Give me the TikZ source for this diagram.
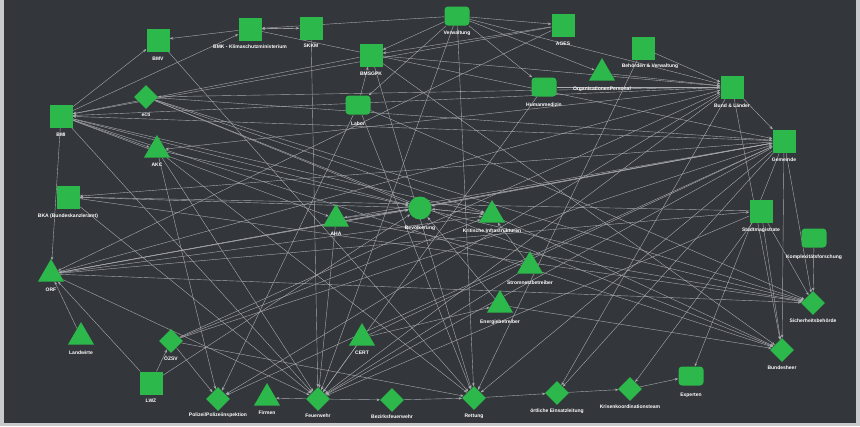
\documentclass[tikz,border=0pt]{standalone}
\usepackage{fontspec}
\setmainfont{Liberation Sans}
\usetikzlibrary{shapes.geometric,arrows.meta}
\pgfdeclarelayer{back}
\pgfdeclarelayer{edges}
\pgfsetlayers{back,edges,main}
\definecolor{bgdark}{HTML}{33363B}
\definecolor{frame}{HTML}{C9CACC}
\definecolor{ngreen}{HTML}{2DB84B}
\definecolor{ecol}{HTML}{A9ABAE}
\tikzset{
  base/.style={fill=ngreen, draw=none, inner sep=0pt},
  sq/.style={base, rectangle, minimum size=23pt},
  rr/.style={base, rectangle, rounded corners=3.5pt, minimum width=25pt, minimum height=19pt},
  tri/.style={base, regular polygon, regular polygon sides=3, minimum size=30pt},
  dia/.style={base, diamond, minimum size=24pt},
  circ/.style={base, circle, minimum size=23pt},
  lab/.style={text=white, font=\fontsize{5}{5.5}\selectfont\bfseries, inner sep=0.5pt},
  edge/.style={draw=ecol, line width=0.4pt, -{Stealth[length=3.4pt,width=2.6pt]}}
}
\begin{document}
\begin{tikzpicture}[x=1pt,y=-1pt]
\begin{pgfonlayer}{back}
\fill[frame] (0,0) rectangle (860,426);
\fill[bgdark] (4,0) rectangle (856,423);
\end{pgfonlayer}
\useasboundingbox (0,0) rectangle (860,426);
% nodes
\node[sq]  (bmv)      at (158,40)  {}; \node[lab] at (158,59) {BMV};
\node[sq]  (bmk)      at (250,29)  {}; \node[lab] at (250,47) {BMK - Klimaschutzministerium};
\node[sq]  (skkm)     at (311,28)  {}; \node[lab] at (311,46) {SKKM};
\node[rr]  (verw)     at (457,16)  {}; \node[lab] at (457,33) {Verwaltung};
\node[sq]  (ages)     at (563,25)  {}; \node[lab] at (563,44) {AGES};
\node[sq]  (behoerden) at (643,48) {}; \node[lab] at (650,66) {Behörden \& Verwaltung};
\node[tri] (orgpers)  at (602,73)  {}; \node[lab] at (602,89) {OrganisationenPersonal};
\node[rr]  (human)    at (544,87)  {}; \node[lab] at (544,105) {Humanmedizin};
\node[sq]  (bmsgpk)   at (371,55)  {}; \node[lab] at (371,74) {BMSGPK};
\node[rr]  (labor)    at (358,105) {}; \node[lab] at (358,124) {Labor};
\node[sq]  (bund)     at (732,87)  {}; \node[lab] at (732,106) {Bund \& Länder};
\node[sq]  (gemeinde) at (784,141) {}; \node[lab] at (784,160) {Gemeinde};
\node[sq]  (bmi)      at (61,116)  {}; \node[lab] at (61,135) {BMI};
\node[dia] (ecti)     at (146,97)  {}; \node[lab] at (146,115) {ecti};
\node[tri] (akc)      at (157,150) {}; \node[lab] at (157,165) {AKC};
\node[sq]  (bka)      at (68,197)  {}; \node[lab] at (68,216) {BKA (Bundeskanzleramt)};
\node[tri] (aha)      at (336,219) {}; \node[lab] at (336,234) {AHA};
\node[circ] (bev)     at (420,208) {}; \node[lab] at (420,228) {Bevölkerung};
\node[tri] (kritis)   at (492,215) {}; \node[lab] at (492,231) {Kritische Infrastrukturen};
\node[sq]  (stadt)    at (761,211) {}; \node[lab] at (761,230) {Stadtmagistrate};
\node[rr]  (komplex)  at (814,238) {}; \node[lab] at (814,257) {Komplexitätsforschung};
\node[tri] (strom)    at (530,266) {}; \node[lab] at (530,283) {Stromnetzbetreiber};
\node[tri] (energie)  at (500,305) {}; \node[lab] at (500,322) {Energiebetreiber};
\node[tri] (orf)      at (51,274)  {}; \node[lab] at (51,290) {ORF};
\node[tri] (landwirte) at (81,337) {}; \node[lab] at (81,353) {Landwirte};
\node[dia] (ozsv)     at (171,341) {}; \node[lab] at (171,358) {ÖZSV};
\node[sq]  (lwz)      at (151,383) {}; \node[lab] at (151,401) {LWZ};
\node[tri] (cert)     at (362,338) {}; \node[lab] at (362,353) {CERT};
\node[dia] (sicher)   at (813,303) {}; \node[lab] at (813,321) {Sicherheitsbehörde};
\node[dia] (bheer)    at (782,350) {}; \node[lab] at (782,368) {Bundesheer};
\node[dia] (polizei)  at (218,399) {}; \node[lab] at (218,415) {Polizei/Polizeiinspektion};
\node[tri] (firmen)   at (267,398) {}; \node[lab] at (267,413) {Firmen};
\node[dia] (fw)       at (318,399) {}; \node[lab] at (318,416) {Feuerwehr};
\node[dia] (bfw)      at (392,400) {}; \node[lab] at (392,417) {Bezirksfeuerwehr};
\node[dia] (rettung)  at (474,398) {}; \node[lab] at (474,416) {Rettung};
\node[dia] (oel)      at (557,393) {}; \node[lab] at (557,411) {örtliche Einsatzleitung};
\node[dia] (kkt)      at (630,389) {}; \node[lab] at (630,407) {Krisenkoordinationsteam};
\node[rr]  (experten) at (691,376) {}; \node[lab] at (691,395) {Experten};
% edges
\begin{pgfonlayer}{edges}
\foreach \s/\t in {
 bmk/bmv, skkm/bmk, bmk/skkm, verw/ages, verw/bmsgpk, ages/bmsgpk, verw/bmk,
 verw/human, verw/orgpers, verw/bund, verw/labor, verw/fw, verw/rettung,
 behoerden/bund, orgpers/bund, human/bund, bmsgpk/bund, ages/bmi, bmsgpk/bmi,
 labor/bmsgpk, gemeinde/bmi, gemeinde/bka, gemeinde/orf, gemeinde/bev,
 gemeinde/fw, gemeinde/rettung, gemeinde/experten, gemeinde/bheer,
 gemeinde/sicher, bund/gemeinde, bund/ecti, bund/bmi, bund/bheer, bund/oel,
 bund/fw, ecti/gemeinde, bmi/akc, bmi/bmv, bmi/bmk, bmi/orf, bmi/aha,
 bmi/kritis, bmi/fw, bmi/bev, ecti/kritis, ecti/bev, ecti/sicher, akc/bev,
 akc/rettung, akc/fw, stadt/bka, bev/bka, orf/bev, orf/gemeinde, orf/bund,
 orf/stadt, orf/kritis, orf/fw, lwz/orf, lwz/bev, lwz/ozsv, ozsv/polizei,
 ozsv/gemeinde, ozsv/bund, ozsv/kritis, ozsv/rettung, fw/firmen, fw/bfw,
 bfw/rettung, rettung/oel, oel/kkt, kkt/experten, cert/energie, cert/fw,
 cert/gemeinde, energie/bev, strom/kritis, aha/bev, aha/fw, kritis/bev,
 bev/kritis, stadt/bheer, stadt/sicher, komplex/sicher, bev/sicher, orf/sicher,
 aha/sicher, labor/sicher, bmsgpk/bheer, bmi/bheer, ecti/bheer, energie/bheer,
 skkm/fw, bmk/gemeinde, labor/polizei, labor/rettung, bmv/rettung,
 bmsgpk/rettung, human/fw, ages/orf, behoerden/rettung, bund/polizei,
 gemeinde/polizei, stadt/fw, gemeinde/oel, bka/fw, bka/sicher, kritis/bheer,
 landwirte/orf, akc/polizei, strom/fw, stadt/kkt, bund/akc, gemeinde/aha}
 { \draw[edge] (\s) -- (\t); }
\end{pgfonlayer}
\end{tikzpicture}
\end{document}
